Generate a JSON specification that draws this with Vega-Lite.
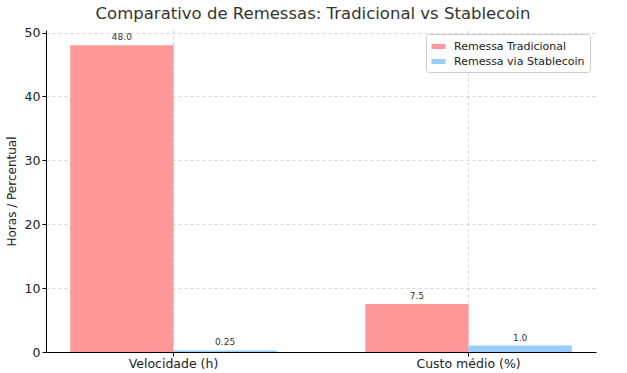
{
  "$schema": "https://vega.github.io/schema/vega-lite/v6.json",
  "autosize": {"type": "none"},
  "width": 550,
  "height": 322,
  "padding": {"left": 46, "top": 30, "right": 31, "bottom": 21},
  "background": "white",
  "view": {"stroke": null},
  "title": {
    "text": "Comparativo de Remessas: Tradicional vs Stablecoin",
    "font": "DejaVu Sans",
    "fontSize": 16.5,
    "fontWeight": "normal",
    "color": "#333333",
    "offset": 4,
    "dx": -8
  },
  "data": {
    "values": [
      {"categoria": "Velocidade (h)", "tipo": "Remessa Tradicional", "valor": 48.0, "rotulo": "48.0"},
      {"categoria": "Velocidade (h)", "tipo": "Remessa via Stablecoin", "valor": 0.25, "rotulo": "0.25"},
      {"categoria": "Custo médio (%)", "tipo": "Remessa Tradicional", "valor": 7.5, "rotulo": "7.5"},
      {"categoria": "Custo médio (%)", "tipo": "Remessa via Stablecoin", "valor": 1.0, "rotulo": "1.0"}
    ]
  },
  "encoding": {
    "x": {
      "field": "categoria",
      "type": "nominal",
      "sort": ["Velocidade (h)", "Custo médio (%)"],
      "scale": {"paddingInner": 0.3, "paddingOuter": 0.082},
      "axis": {
        "title": null,
        "labelAngle": 0,
        "bandPosition": 0.5,
        "grid": true,
        "gridDash": [3, 3],
        "gridColor": "#cccccc",
        "gridWidth": 0.8,
        "domainColor": "#000000",
        "tickColor": "#000000",
        "tickSize": 4,
        "labelFont": "DejaVu Sans",
        "labelFontSize": 12.5,
        "labelColor": "#222222",
        "labelPadding": 1
      }
    },
    "xOffset": {"field": "tipo", "type": "nominal", "sort": ["Remessa Tradicional", "Remessa via Stablecoin"]},
    "y": {
      "field": "valor",
      "type": "quantitative",
      "scale": {"domain": [0, 50.4], "nice": false, "zero": true},
      "axis": {
        "title": "Horas / Percentual",
        "values": [0, 10, 20, 30, 40, 50],
        "grid": true,
        "gridDash": [3, 3],
        "gridColor": "#cccccc",
        "gridWidth": 0.8,
        "domainColor": "#000000",
        "tickColor": "#000000",
        "tickSize": 4,
        "labelFont": "DejaVu Sans",
        "labelFontSize": 12.5,
        "labelColor": "#222222",
        "labelPadding": 2,
        "titleFont": "DejaVu Sans",
        "titleFontSize": 12,
        "titleFontWeight": "normal",
        "titleColor": "#222222",
        "titlePadding": 6
      }
    }
  },
  "layer": [
    {
      "mark": {"type": "bar"},
      "encoding": {
        "color": {
          "field": "tipo",
          "type": "nominal",
          "scale": {"domain": ["Remessa Tradicional", "Remessa via Stablecoin"], "range": ["#ff9999", "#99ccff"]},
          "legend": {
            "title": null,
            "orient": "none",
            "legendX": 380,
            "legendY": 4,
            "padding": 5,
            "strokeColor": "#cccccc",
            "fillColor": "white",
            "cornerRadius": 3,
            "symbolType": "M-1,-0.35H1V0.35H-1Z",
            "symbolSize": 200,
            "symbolStrokeWidth": 0,
            "symbolOpacity": 1,
            "labelFont": "DejaVu Sans",
            "labelFontSize": 11,
            "labelColor": "#222222",
            "rowPadding": 2,
            "labelOffset": 8
          }
        }
      }
    },
    {
      "mark": {"type": "text", "dy": -3, "font": "DejaVu Sans", "fontSize": 9, "color": "#333333", "baseline": "bottom"},
      "encoding": {
        "text": {"field": "rotulo"}
      }
    }
  ]
}
